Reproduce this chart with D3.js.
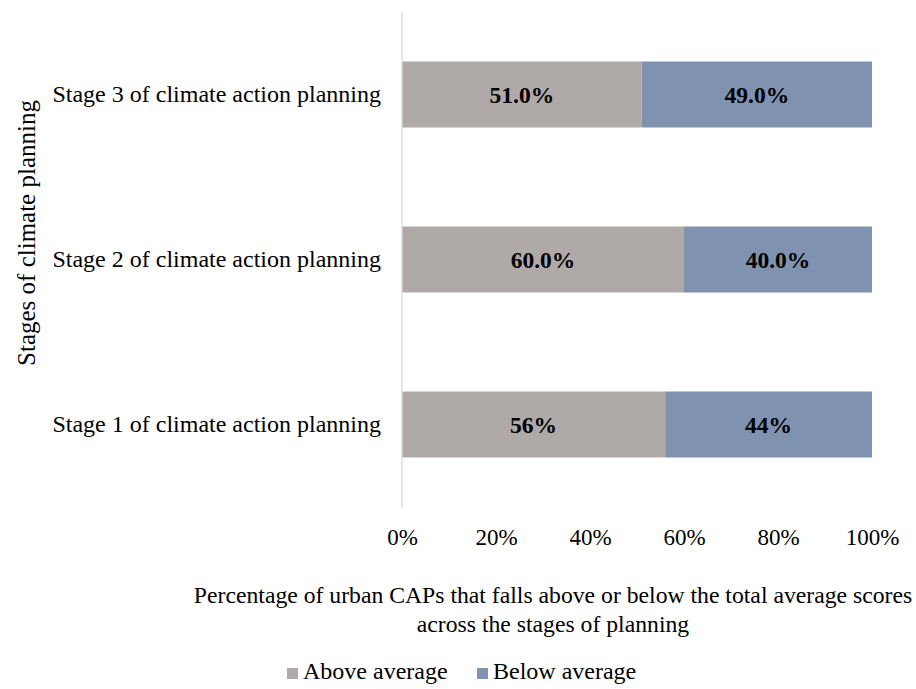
<!DOCTYPE html>
<html>
<head>
<meta charset="utf-8">
<script src="https://cdn.jsdelivr.net/npm/d3@7"></script>
<style>
  html, body { margin: 0; padding: 0; background: #ffffff; }
  svg { display: block; font-family: "Liberation Serif", "Times New Roman", serif; }
</style>
</head>
<body>
<svg id="chart" width="916" height="689"></svg>
<script>
// Stages of climate action planning, bottom to top
const stages = [
  "Stage 1 of climate action planning",
  "Stage 2 of climate action planning",
  "Stage 3 of climate action planning"
];
// Share of urban CAPs above / below the total average score (%)
const aboveAverage = [56, 60, 51];
const belowAverage = [44, 40, 49];
// Label text printed inside each segment
const aboveLabels = ["56%", "60.0%", "51.0%"];
const belowLabels = ["44%", "40.0%", "49.0%"];
const seriesNames = ["Above average", "Below average"];
const xTicks = [0, 20, 40, 60, 80, 100];

const colors = { "Above average": "#afa9a8", "Below average": "#7f92af" };

const svg = d3.select("#chart");
const plot = { left: 402, right: 872, top: 12, bottom: 507 };

const x = d3.scaleLinear().domain([0, 100]).range([plot.left, plot.right]);
const y = d3.scaleBand()
  .domain(stages.slice().reverse())
  .range([plot.top, plot.bottom])
  .paddingInner(0.6)
  .paddingOuter(0.3);

const rows = stages.map((s, i) => ({
  stage: s,
  segments: [
    { name: seriesNames[0], x0: 0, x1: aboveAverage[i], label: aboveLabels[i] },
    { name: seriesNames[1], x0: aboveAverage[i], x1: aboveAverage[i] + belowAverage[i], label: belowLabels[i] }
  ]
}));

// Bars
const rowG = svg.selectAll("g.row").data(rows).join("g")
  .attr("class", "row")
  .attr("transform", d => `translate(0,${y(d.stage)})`);

rowG.selectAll("rect").data(d => d.segments).join("rect")
  .attr("x", d => x(d.x0))
  .attr("width", d => x(d.x1) - x(d.x0))
  .attr("y", 0)
  .attr("height", y.bandwidth())
  .attr("fill", d => colors[d.name]);

rowG.selectAll("text.val").data(d => d.segments).join("text")
  .attr("class", "val")
  .attr("x", d => (x(d.x0) + x(d.x1)) / 2)
  .attr("y", y.bandwidth() / 2)
  .attr("dy", "0.35em")
  .attr("text-anchor", "middle")
  .attr("font-size", 23.5)
  .attr("font-weight", "bold")
  .attr("fill", "#000")
  .text(d => d.label);

// Vertical category axis line
svg.append("line")
  .attr("x1", plot.left).attr("x2", plot.left)
  .attr("y1", plot.top).attr("y2", plot.bottom)
  .attr("stroke", "#d9d9d9").attr("stroke-width", 1.3);

// Category labels
const yAxis = d3.axisLeft(y).tickSize(0).tickPadding(21);
const yG = svg.append("g").attr("transform", `translate(${plot.left},0)`).call(yAxis);
yG.select(".domain").remove();
yG.selectAll("text")
  .attr("font-size", 24)
  .attr("font-family", "Liberation Serif, Times New Roman, serif")
  .attr("fill", "#000");

// Percentage axis labels
const xAxis = d3.axisBottom(x).tickValues(xTicks).tickSize(0).tickPadding(0)
  .tickFormat(d => d + "%");
const xG = svg.append("g").attr("transform", `translate(0,${plot.bottom})`).call(xAxis);
xG.select(".domain").remove();
xG.selectAll("text")
  .attr("y", 38)
  .attr("dy", null)
  .attr("font-size", 23)
  .attr("font-family", "Liberation Serif, Times New Roman, serif")
  .attr("fill", "#000");

// Axis titles
svg.append("text")
  .attr("transform", "translate(26,233) rotate(-90)")
  .attr("text-anchor", "middle")
  .attr("dy", "0.35em")
  .attr("font-size", 25)
  .attr("fill", "#000")
  .text("Stages of climate planning");

const xTitle = svg.append("text")
  .attr("text-anchor", "middle")
  .attr("font-size", 23.7)
  .attr("fill", "#000");
xTitle.append("tspan").attr("x", 553).attr("y", 603)
  .text("Percentage of urban CAPs that falls above or below the total average scores");
xTitle.append("tspan").attr("x", 553).attr("y", 632)
  .text("across the stages of planning");

// Legend
const legendItems = [
  { name: seriesNames[0], x: 287 },
  { name: seriesNames[1], x: 477 }
];
const lg = svg.selectAll("g.legend").data(legendItems).join("g")
  .attr("class", "legend")
  .attr("transform", d => `translate(${d.x},668)`);
lg.append("rect").attr("width", 11).attr("height", 11)
  .attr("fill", d => colors[d.name]);
lg.append("text")
  .attr("x", 16).attr("y", 11)
  .attr("font-size", 24).attr("fill", "#000")
  .text(d => d.name);
</script>
</body>
</html>
